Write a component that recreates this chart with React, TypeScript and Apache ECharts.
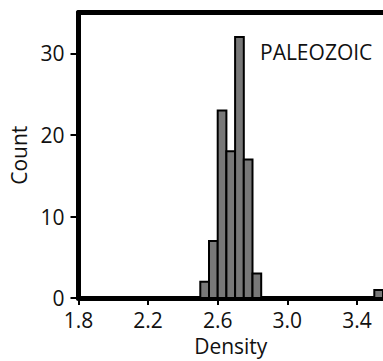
import React, { useEffect, useRef } from "react";
import * as echarts from "echarts";

const binStarts = [2.5, 2.55, 2.6, 2.65, 2.7, 2.75, 2.8, 3.5];
const binWidth = 0.05;
const counts = [2, 7, 23, 18, 32, 17, 3, 1];
const xTicks = [1.8, 2.2, 2.6, 3.0, 3.4];
const yTicks = [0, 10, 20, 30];
const panelLabel = "PALEOZOIC";
const xName = "Density";
const yName = "Count";

const FONT = "'Open Sans', sans-serif";

export default function App() {
  const ref = useRef<HTMLDivElement>(null);
  useEffect(() => {
    if (!ref.current) return;
    const chart = echarts.init(ref.current, null, { renderer: "svg" });
    const data = binStarts.map((s, i) => [s, s + binWidth, counts[i]]);
    chart.setOption({
      animation: false,
      grid: { left: 78.5, top: 12.5, width: 306, height: 285.8 },
      xAxis: [
        {
          type: "value",
          min: 1.8,
          max: 3.55,
          name: xName,
          nameLocation: "middle",
          nameGap: 27,
          nameTextStyle: { fontFamily: FONT, fontSize: 21, color: "#111" },
          axisLine: { lineStyle: { color: "#000", width: 5 } },
          axisTick: { customValues: xTicks, length: 7, lineStyle: { color: "#000", width: 2 } },
          axisLabel: {
            customValues: xTicks,
            formatter: (v: number) => v.toFixed(1),
            fontFamily: FONT,
            fontSize: 21,
            color: "#111",
            margin: 11,
          },
          splitLine: { show: false },
        },
        {
          type: "value",
          position: "top",
          min: 1.8,
          max: 3.55,
          axisLine: { show: true, lineStyle: { color: "#000", width: 5 } },
          axisTick: { show: false },
          axisLabel: { show: false },
          splitLine: { show: false },
        },
      ],
      yAxis: {
        type: "value",
        min: 0,
        max: 35,
        name: yName,
        nameLocation: "middle",
        nameGap: 47,
        nameTextStyle: { fontFamily: FONT, fontSize: 21, color: "#111" },
        axisLine: { show: true, lineStyle: { color: "#000", width: 5 } },
        axisTick: { show: true, customValues: yTicks, length: 8, lineStyle: { color: "#000", width: 2 } },
        axisLabel: {
          customValues: yTicks,
          fontFamily: FONT,
          fontSize: 21,
          color: "#111",
          margin: 14,
        },
        splitLine: { show: false },
      },
      series: [
        {
          type: "custom",
          xAxisIndex: 0,
          renderItem: (params: any, api: any) => {
            const p0 = api.coord([api.value(0), api.value(2)]);
            const p1 = api.coord([api.value(1), 0]);
            return {
              type: "rect",
              shape: { x: p0[0], y: p0[1], width: p1[0] - p0[0], height: p1[1] - p0[1] },
              style: { fill: "#787878", stroke: "#000", lineWidth: 2 },
            };
          },
          encode: { x: [0, 1], y: 2 },
          data,
          z: 1,
        },
      ],
      graphic: [
        {
          type: "text",
          x: 260,
          y: 52,
          style: {
            text: panelLabel,
            fontFamily: FONT,
            fontSize: 21,
            fill: "#111",
            verticalAlign: "middle",
          },
        },
      ],
    });
    return () => chart.dispose();
  }, []);
  return (
    <div
      ref={ref}
      style={{ position: "absolute", left: 0, top: 0, width: 383, height: 361, background: "#fff" }}
    />
  );
}
